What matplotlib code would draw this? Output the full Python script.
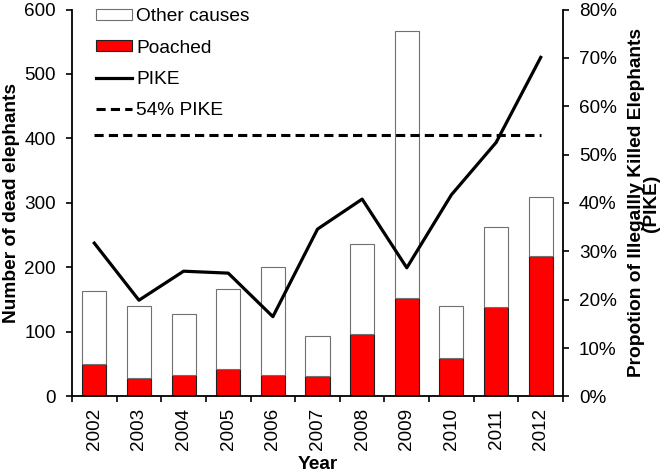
import numpy as np
import matplotlib.pyplot as plt
from matplotlib.ticker import FuncFormatter

plt.rcParams['font.family'] = ['Liberation Sans', 'DejaVu Sans']

years = ['2002', '2003', '2004', '2005', '2006', '2007', '2008', '2009', '2010', '2011', '2012']
total_dead = [163, 141, 128, 167, 201, 94, 236, 567, 141, 263, 310]
poached = [51, 29, 34, 43, 34, 32, 97, 152, 59, 138, 218]
pike = [31.7, 19.9, 25.9, 25.5, 16.5, 34.6, 40.8, 26.6, 41.7, 52.5, 70.1]
pike_threshold = 54

other = [t - p for t, p in zip(total_dead, poached)]
x = np.arange(len(years))

fig = plt.figure(figsize=(6.69, 4.75), dpi=100)
ax = fig.add_axes([0.1076, 0.1653, 0.7340, 0.8147])

ax.bar(x, poached, width=0.54, color='#ff0000', edgecolor='#202020', linewidth=0.8,
       label='Poached', zorder=2)
ax.bar(x, other, bottom=poached, width=0.54, color='white', edgecolor='#707070',
       linewidth=0.8, label='Other causes', zorder=2)

ax.set_xlim(-0.5, len(years) - 0.5)
ax.set_ylim(0, 600)
ax.set_yticks(range(0, 601, 100))
ax.set_xticks(x)
ax.set_xticklabels(years, rotation=90)
ax.set_xticks(np.arange(-0.5, len(years), 1), minor=True)
ax.tick_params(axis='x', which='major', length=0, pad=8.3)
ax.tick_params(axis='x', which='minor', length=4.5, width=1.2, direction='out')
ax.tick_params(axis='y', length=4.5, width=1.2, direction='out', pad=7)
ax.tick_params(labelsize=13.6)
ax.spines['top'].set_visible(False)
ax.spines['right'].set_visible(False)
for s in ['left', 'bottom']:
    ax.spines[s].set_linewidth(1.3)
ax.set_ylabel('Number of dead elephants', fontsize=13.8, fontweight='bold', labelpad=3)
ax.set_xlabel('Year', fontsize=13.8, fontweight='bold', labelpad=4)

ax2 = ax.twinx()
ax2.plot(x, pike, color='black', linewidth=2.3, label='PIKE', zorder=3)
ax2.plot(x, [pike_threshold] * len(years), color='black', linewidth=2.2,
         linestyle=(0, (3.0, 1.7)), label='54% PIKE')
ax2.set_xlim(-0.5, len(years) - 0.5)
ax2.set_ylim(0, 80)
ax2.set_yticks(range(0, 81, 10))
ax2.yaxis.set_major_formatter(FuncFormatter(lambda v, pos: '%d%%' % v))
ax2.tick_params(axis='y', length=4.5, width=1.2, direction='out', labelsize=13.6, pad=7)
for s in ['top', 'left', 'bottom']:
    ax2.spines[s].set_visible(False)
ax2.spines['right'].set_linewidth(1.3)
ax2.set_ylabel('Propotion of Illegallly Killed Elephants\n(PIKE)', fontsize=13.8,
               fontweight='bold', labelpad=8, linespacing=0.85)

h1, l1 = ax.get_legend_handles_labels()
h2, l2 = ax2.get_legend_handles_labels()
handles = [h1[1], h1[0], h2[0], h2[1]]
labels = [l1[1], l1[0], l2[0], l2[1]]
ax2.legend(handles, labels, loc='upper left', bbox_to_anchor=(0.049, 1.003), frameon=False,
           fontsize=13.8, handlelength=1.875, handleheight=0.52, handletextpad=0.22,
           labelspacing=0.74, borderaxespad=0, borderpad=0)

fig.savefig('out.png', dpi=100)
